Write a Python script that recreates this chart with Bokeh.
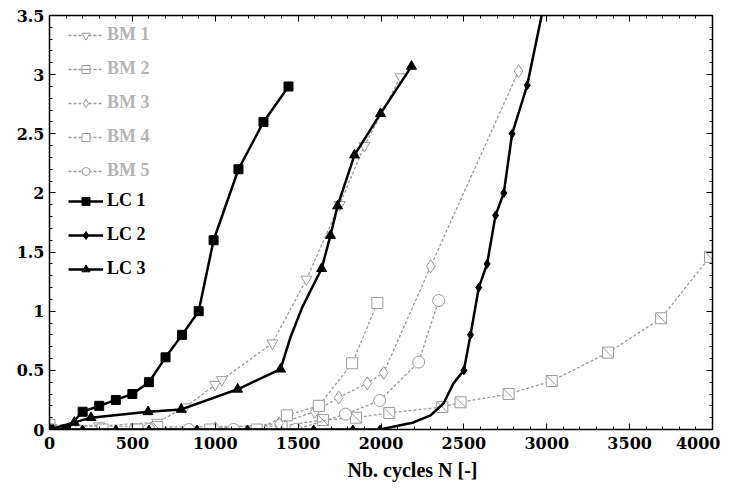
from bokeh.plotting import figure
from bokeh.models import Range1d, LinearAxis, Legend, LegendItem, Title, FixedTicker
from bokeh.embed import file_html
from bokeh.resources import INLINE

# ---------------- data ----------------
x_ticks = [0, 500, 1000, 1500, 2000, 2500, 3000, 3500, 4000]
x_tick_labels = ["0", "500", "1000", "1500", "2000", "2500", "3000", "3500", "4000"]
y_ticks = [0, 0.5, 1, 1.5, 2, 2.5, 3, 3.5]
y_tick_labels = ["0", "0.5", "1", "1.5", "2", "2.5", "3", "3.5"]
x_minor = [i * 100 for i in range(41)]
y_minor = [i * 0.1 for i in range(36)]

bm1_x = [0, 300, 650, 820, 1000, 1040, 1345, 1550, 1750, 1900, 2118]
bm1_y = [0.03, 0.03, 0.06, 0.19, 0.38, 0.42, 0.73, 1.27, 1.9, 2.4, 2.98]

bm2_x = [0, 650, 1400, 1650, 1850, 2050, 2370, 2480, 2770, 3030, 3370, 3690, 3985]
bm2_y = [0.04, 0.02, 0.03, 0.08, 0.1, 0.14, 0.19, 0.23, 0.3, 0.41, 0.65, 0.94, 1.46]

bm3_x = [0, 500, 1000, 1385, 1600, 1745, 1917, 2016, 2300, 2830]
bm3_y = [0.0, 0.0, 0.01, 0.05, 0.15, 0.27, 0.39, 0.48, 1.38, 3.03]

bm4_x = [0, 320, 530, 970, 1250, 1432, 1625, 1826, 1978]
bm4_y = [0, 0, 0, 0, 0, 0.12, 0.2, 0.56, 1.07]

bm5_x = [0, 600, 840, 1110, 1484, 1786, 1992, 2227, 2348]
bm5_y = [0, 0, 0, 0, 0, 0.13, 0.245, 0.57, 1.09]

lc1_x = [0, 100, 200, 300, 400, 500, 600, 700, 800, 900, 990, 1140, 1291, 1442]
lc1_y = [0, 0, 0.15, 0.2, 0.25, 0.3, 0.4, 0.61, 0.8, 1.0, 1.6, 2.2, 2.6, 2.9]

lc2_x = [0, 200, 400, 600, 890, 1195, 1594, 1830, 1993, 2500, 2540, 2590, 2640, 2691, 2741, 2791, 2882]
lc2_y = [0, 0, 0, 0, 0, 0, 0, 0, 0, 0.5, 0.8, 1.2, 1.4, 1.81, 2.0, 2.5, 2.91]
lc2_curve_x = [0, 1993, 2196, 2299, 2377, 2437, 2500, 2540, 2590, 2640, 2691, 2741, 2791, 2882, 2990]
lc2_curve_y = [0, 0, 0.06, 0.12, 0.22, 0.39, 0.5, 0.8, 1.2, 1.4, 1.81, 2.0, 2.5, 2.91, 3.64]

lc3_x = [0, 150, 250, 595, 795, 1135, 1394, 1642, 1695, 1738, 1840, 1997, 2184]
lc3_y = [0, 0.06, 0.1, 0.15, 0.17, 0.34, 0.51, 1.36, 1.64, 1.89, 2.32, 2.67, 3.07]
lc3_curve_x = [0, 150, 250, 595, 795, 1135, 1394, 1454, 1524, 1595, 1642, 1695, 1738, 1840, 1997, 2184]
lc3_curve_y = [0, 0.06, 0.1, 0.15, 0.17, 0.34, 0.51, 0.78, 1.03, 1.23, 1.36, 1.64, 1.89, 2.32, 2.67, 3.07]

# ---------------- styling ----------------
FONT = "Liberation Serif"
TICK_FONT = "DejaVu Serif"
GREY_LINE = "#9a9a9a"
GREY_TEXT = "#b4b4b4"

p = figure(output_backend="svg", toolbar_location=None,
           frame_width=663, frame_height=414,
           x_range=Range1d(0, 4000), y_range=Range1d(0, 3.5),
           min_border_left=49, min_border_right=8, min_border_top=15, min_border_bottom=54)
p.background_fill_color = "white"
p.border_fill_color = "white"
p.outline_line_color = "black"
p.outline_line_width = 1
p.xgrid.visible = False
p.ygrid.visible = False

xt = FixedTicker(ticks=x_ticks, minor_ticks=x_minor)
yt = FixedTicker(ticks=y_ticks, minor_ticks=y_minor)


def style_axis(ax):
    ax.axis_line_color = "black"
    ax.axis_line_width = 1.5
    ax.major_tick_in = 6
    ax.major_tick_out = 0
    ax.minor_tick_in = 3
    ax.minor_tick_out = 0
    ax.major_tick_line_color = "black"
    ax.minor_tick_line_color = "black"
    ax.major_label_text_font = TICK_FONT
    ax.major_label_text_font_style = "bold"
    ax.major_label_text_font_size = "16px"
    ax.major_label_text_color = "black"


p.xaxis.ticker = xt
p.yaxis.ticker = yt
p.xaxis.major_label_overrides = dict(zip(x_ticks, x_tick_labels))
p.yaxis.major_label_overrides = dict(zip(y_ticks, y_tick_labels))
style_axis(p.xaxis[0])
style_axis(p.yaxis[0])
p.xaxis.major_label_standoff = 7
p.yaxis.major_label_standoff = 5

top_ax = LinearAxis(ticker=xt)
right_ax = LinearAxis(ticker=yt)
style_axis(top_ax)
style_axis(right_ax)
top_ax.major_label_overrides = {t: "" for t in x_ticks}
right_ax.major_label_overrides = {t: "" for t in y_ticks}
top_ax.major_label_standoff = 0
right_ax.major_label_standoff = 0
top_ax.major_label_text_font_size = "1px"
right_ax.major_label_text_font_size = "1px"
p.add_layout(top_ax, "above")
p.add_layout(right_ax, "right")

p.add_layout(Title(text="Nb. cycles N [-]", align="left", offset=298,
                   text_font=FONT, text_font_style="bold", text_font_size="20px",
                   text_color="black", standoff=10), "below")

# ---------------- series ----------------
DASH = "3 2"
LW = 1.3
bm_items = []

l = p.line(bm1_x, bm1_y, line_color=GREY_LINE, line_width=LW, line_dash=DASH)
s = p.scatter(bm1_x, bm1_y, marker="inverted_triangle", size=11, fill_color="white",
              line_color=GREY_LINE, line_width=1)
bm_items.append(LegendItem(label="BM 1", renderers=[l, s]))

l = p.line(bm2_x, bm2_y, line_color=GREY_LINE, line_width=LW, line_dash=DASH)
s = p.scatter(bm2_x, bm2_y, marker="square", size=11, fill_color="white",
              line_color=GREY_LINE, line_width=1)
d = p.scatter(bm2_x, bm2_y, marker="dash", size=14, angle=-0.785,
              line_color=GREY_LINE, line_width=1)
bm_items.append(LegendItem(label="BM 2", renderers=[l, s, d]))

l = p.line(bm3_x, bm3_y, line_color=GREY_LINE, line_width=LW, line_dash=DASH)
s = p.scatter(bm3_x, bm3_y, marker="diamond", size=13, fill_color="white",
              line_color=GREY_LINE, line_width=1)
bm_items.append(LegendItem(label="BM 3", renderers=[l, s]))

l = p.line(bm4_x, bm4_y, line_color=GREY_LINE, line_width=LW, line_dash=DASH)
s = p.scatter(bm4_x, bm4_y, marker="square", size=11, fill_color="white",
              line_color=GREY_LINE, line_width=1)
bm_items.append(LegendItem(label="BM 4", renderers=[l, s]))

l = p.line(bm5_x, bm5_y, line_color=GREY_LINE, line_width=LW, line_dash=DASH)
s = p.scatter(bm5_x, bm5_y, marker="circle", size=12, fill_color="white",
              line_color=GREY_LINE, line_width=1)
bm_items.append(LegendItem(label="BM 5", renderers=[l, s]))

lc_items = []
l = p.line(lc1_x, lc1_y, line_color="black", line_width=2.5)
s = p.scatter(lc1_x, lc1_y, marker="square", size=9, fill_color="black", line_color="black")
lc_items.append(LegendItem(label="LC 1", renderers=[l, s]))

l = p.line(lc2_curve_x, lc2_curve_y, line_color="black", line_width=2.5)
s = p.scatter(lc2_x, lc2_y, marker="diamond", size=9, fill_color="black", line_color="black")
lc_items.append(LegendItem(label="LC 2", renderers=[l, s]))

l = p.line(lc3_curve_x, lc3_curve_y, line_color="black", line_width=2.5)
s = p.scatter(lc3_x, lc3_y, marker="triangle", size=10, fill_color="black", line_color="black")
lc_items.append(LegendItem(label="LC 3", renderers=[l, s]))


def style_legend(lg, color):
    lg.label_text_font = FONT
    lg.label_text_font_style = "bold"
    lg.label_text_font_size = "18px"
    lg.label_text_color = color
    lg.glyph_width = 35
    lg.glyph_height = 20
    lg.label_height = 20
    lg.spacing = 13
    lg.padding = 10
    lg.margin = 0
    lg.label_standoff = 4
    lg.border_line_color = None
    lg.background_fill_alpha = 0


leg_bm = Legend(items=bm_items, location=(19, 248))
style_legend(leg_bm, GREY_TEXT)
leg_lc = Legend(items=lc_items, location=(19, 150))
style_legend(leg_lc, "black")
p.add_layout(leg_bm, "center")
p.add_layout(leg_lc, "center")

open("out.html", "w").write(file_html(p, INLINE))
